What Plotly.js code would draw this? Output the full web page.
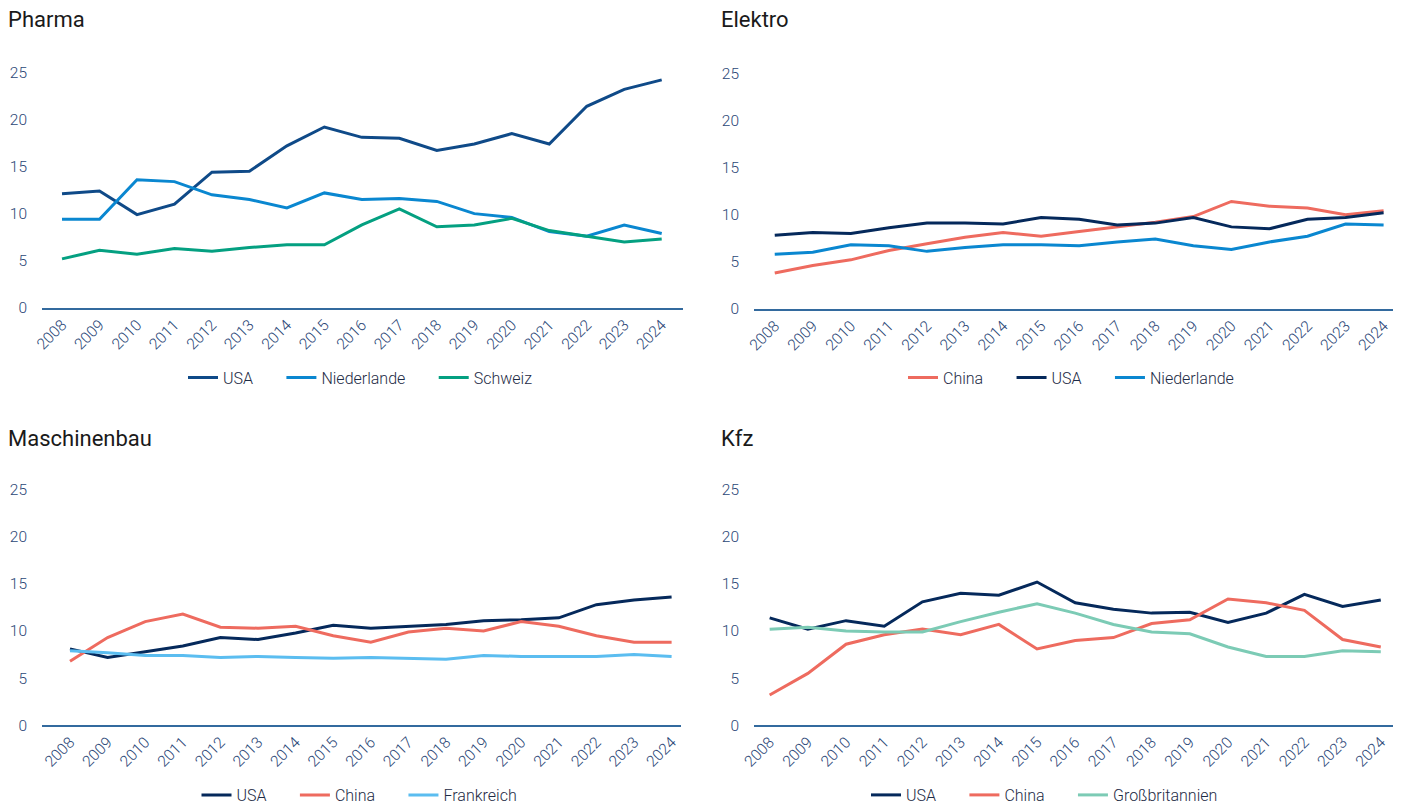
<!DOCTYPE html>
<html>
<head>
<meta charset="utf-8">
<script src="https://cdn.plot.ly/plotly-3.0.1.min.js"></script>
<style>html,body{margin:0;padding:0;background:#fff;}#chart{width:1402px;height:812px;}</style>
</head>
<body>
<div id="chart"></div>
<script>
const years = [2008,2009,2010,2011,2012,2013,2014,2015,2016,2017,2018,2019,2020,2021,2022,2023,2024];

// Pharma
const pharmaUSA = [12.1,12.4,9.9,11.0,14.4,14.5,17.2,19.2,18.1,18.0,16.7,17.4,18.5,17.4,21.4,23.2,24.2];
const pharmaNiederlande = [9.4,9.4,13.6,13.4,12.0,11.5,10.6,12.2,11.5,11.6,11.3,10.0,9.6,8.1,7.6,8.8,7.9];
const pharmaSchweiz = [5.2,6.1,5.7,6.3,6.0,6.4,6.7,6.7,8.8,10.5,8.6,8.8,9.5,8.2,7.6,7.0,7.3];

// Elektro
const elektroChina = [3.8,4.6,5.2,6.2,6.9,7.6,8.1,7.7,8.2,8.7,9.2,9.8,11.4,10.9,10.7,10.0,10.4];
const elektroUSA = [7.8,8.1,8.0,8.6,9.1,9.1,9.0,9.7,9.5,8.9,9.1,9.7,8.7,8.5,9.5,9.7,10.2];
const elektroNiederlande = [5.8,6.0,6.8,6.7,6.1,6.5,6.8,6.8,6.7,7.1,7.4,6.7,6.3,7.1,7.7,9.0,8.9];

// Maschinenbau
const maschUSA = [8.1,7.2,7.8,8.4,9.3,9.1,9.8,10.6,10.3,10.5,10.7,11.1,11.2,11.4,12.8,13.3,13.6];
const maschChina = [6.8,9.3,11.0,11.8,10.4,10.3,10.5,9.5,8.8,9.9,10.3,10.0,11.0,10.5,9.5,8.8,8.8];
const maschFrankreich = [7.9,7.7,7.4,7.4,7.2,7.3,7.2,7.1,7.2,7.1,7.0,7.4,7.3,7.3,7.3,7.5,7.3];

// Kfz
const kfzUSA = [11.4,10.2,11.1,10.5,13.1,14.0,13.8,15.2,13.0,12.3,11.9,12.0,10.9,11.9,13.9,12.6,13.3];
const kfzChina = [3.2,5.5,8.6,9.6,10.2,9.6,10.7,8.1,9.0,9.3,10.8,11.2,13.4,13.0,12.2,9.1,8.3];
const kfzGB = [10.2,10.4,10.0,9.9,9.9,11.0,12.0,12.9,11.9,10.7,9.9,9.7,8.3,7.3,7.3,7.9,7.8];

const panelTitles = ["Pharma","Elektro","Maschinenbau","Kfz"];
const yTicks = [0,5,10,15,20,25];

const C = {
  navyP: "#0f4a88",
  navy: "#05295b",
  nl: "#0a87d0",
  ch: "#04a081",
  cn: "#ee6b5f",
  fr: "#5bbdf0",
  gb: "#7ccbb5"
};

const PAD = "\u00a0\u00a0\u00a0\u00a0\u00a0\u00a0";
function tr(y, name, color, xa, ya, lg) {
  return {x: years, y: y, name: name + PAD, type: "scatter", mode: "lines",
    line: {color: color, width: 3}, xaxis: xa, yaxis: ya, legend: lg,
    hoverinfo: "x+y+name"};
}

const data = [
  tr(pharmaUSA, "USA", C.navyP, "x", "y", "legend"),
  tr(pharmaNiederlande, "Niederlande", C.nl, "x", "y", "legend"),
  tr(pharmaSchweiz, "Schweiz", C.ch, "x", "y", "legend"),
  tr(elektroChina, "China", C.cn, "x2", "y2", "legend2"),
  tr(elektroUSA, "USA", C.navy, "x2", "y2", "legend2"),
  tr(elektroNiederlande, "Niederlande", C.nl, "x2", "y2", "legend2"),
  tr(maschUSA, "USA", C.navy, "x3", "y3", "legend3"),
  tr(maschChina, "China", C.cn, "x3", "y3", "legend3"),
  tr(maschFrankreich, "Frankreich", C.fr, "x3", "y3", "legend3"),
  tr(kfzUSA, "USA", C.navy, "x4", "y4", "legend4"),
  tr(kfzChina, "China", C.cn, "x4", "y4", "legend4"),
  tr(kfzGB, "Großbritannien", C.gb, "x4", "y4", "legend4")
];

const W = 1402, H = 812;
const FONT = "Roboto, 'Noto Sans', sans-serif";
const tickFont = {family: FONT, size: 15.5, color: "#2b4777", weight: 300};

function xax(x0, x1, lo, hi, anchor) {
  return {domain: [x0 / W, x1 / W], anchor: anchor, type: "linear",
    range: [years[0] - lo, years[years.length - 1] + hi],
    tickmode: "array", tickvals: years, ticktext: years.map(String),
    tickangle: -45, tickfont: tickFont, showgrid: false, zeroline: false,
    showline: true, linecolor: "#336a9e", linewidth: 2, ticks: "", fixedrange: true};
}
function yax(pxBottom, pxTop, anchor) {
  return {domain: [(H - pxBottom) / H, (H - pxTop) / H], anchor: anchor,
    range: [0, 25], tickmode: "array", tickvals: yTicks, ticktext: yTicks.map(String),
    tickfont: tickFont, showgrid: false, zeroline: false, showline: false,
    ticks: "", ticklabelstandoff: 14, fixedrange: true};
}
function leg(xc, ypx) {
  return {orientation: "h", x: xc / W, xanchor: "center", y: (H - ypx) / H, yanchor: "middle",
    font: {family: FONT, size: 16, color: "#1d2b45", weight: 300}, bgcolor: "rgba(0,0,0,0)",
    itemwidth: 30, tracegroupgap: 0, itemclick: false, itemdoubleclick: false};
}

const layout = {
  width: W, height: H,
  margin: {l: 0, r: 0, t: 0, b: 0},
  paper_bgcolor: "#ffffff", plot_bgcolor: "#ffffff",
  showlegend: true,
  xaxis: xax(42, 683, 0.534, 0.568, "y"),
  yaxis: yax(310.5, 73, "x"),
  xaxis2: xax(754, 1393, 0.545, 0.247, "y2"),
  yaxis2: yax(311.5, 74, "x2"),
  xaxis3: xax(42, 681, 0.745, 0.25, "y3"),
  yaxis3: yax(731.5, 494, "x3"),
  xaxis4: xax(754, 1393, 0.41, 0.32, "y4"),
  yaxis4: yax(731.5, 494, "x4"),
  legend: leg(372, 381),
  legend2: leg(1083, 381),
  legend3: leg(371, 802),
  legend4: leg(1056, 802),
  annotations: [
    {text: panelTitles[0], x: 6 / W, y: (H - 20) / H},
    {text: panelTitles[1], x: 719 / W, y: (H - 20) / H},
    {text: panelTitles[2], x: 6 / W, y: (H - 442) / H},
    {text: panelTitles[3], x: 719 / W, y: (H - 442) / H}
  ].map(a => Object.assign({xref: "paper", yref: "paper", xanchor: "left", yanchor: "middle",
    showarrow: false, font: {family: FONT, size: 22, color: "#1a1a1a"}}, a))
};

Plotly.newPlot("chart", data, layout, {displayModeBar: false, staticPlot: true});
</script>
</body>
</html>
